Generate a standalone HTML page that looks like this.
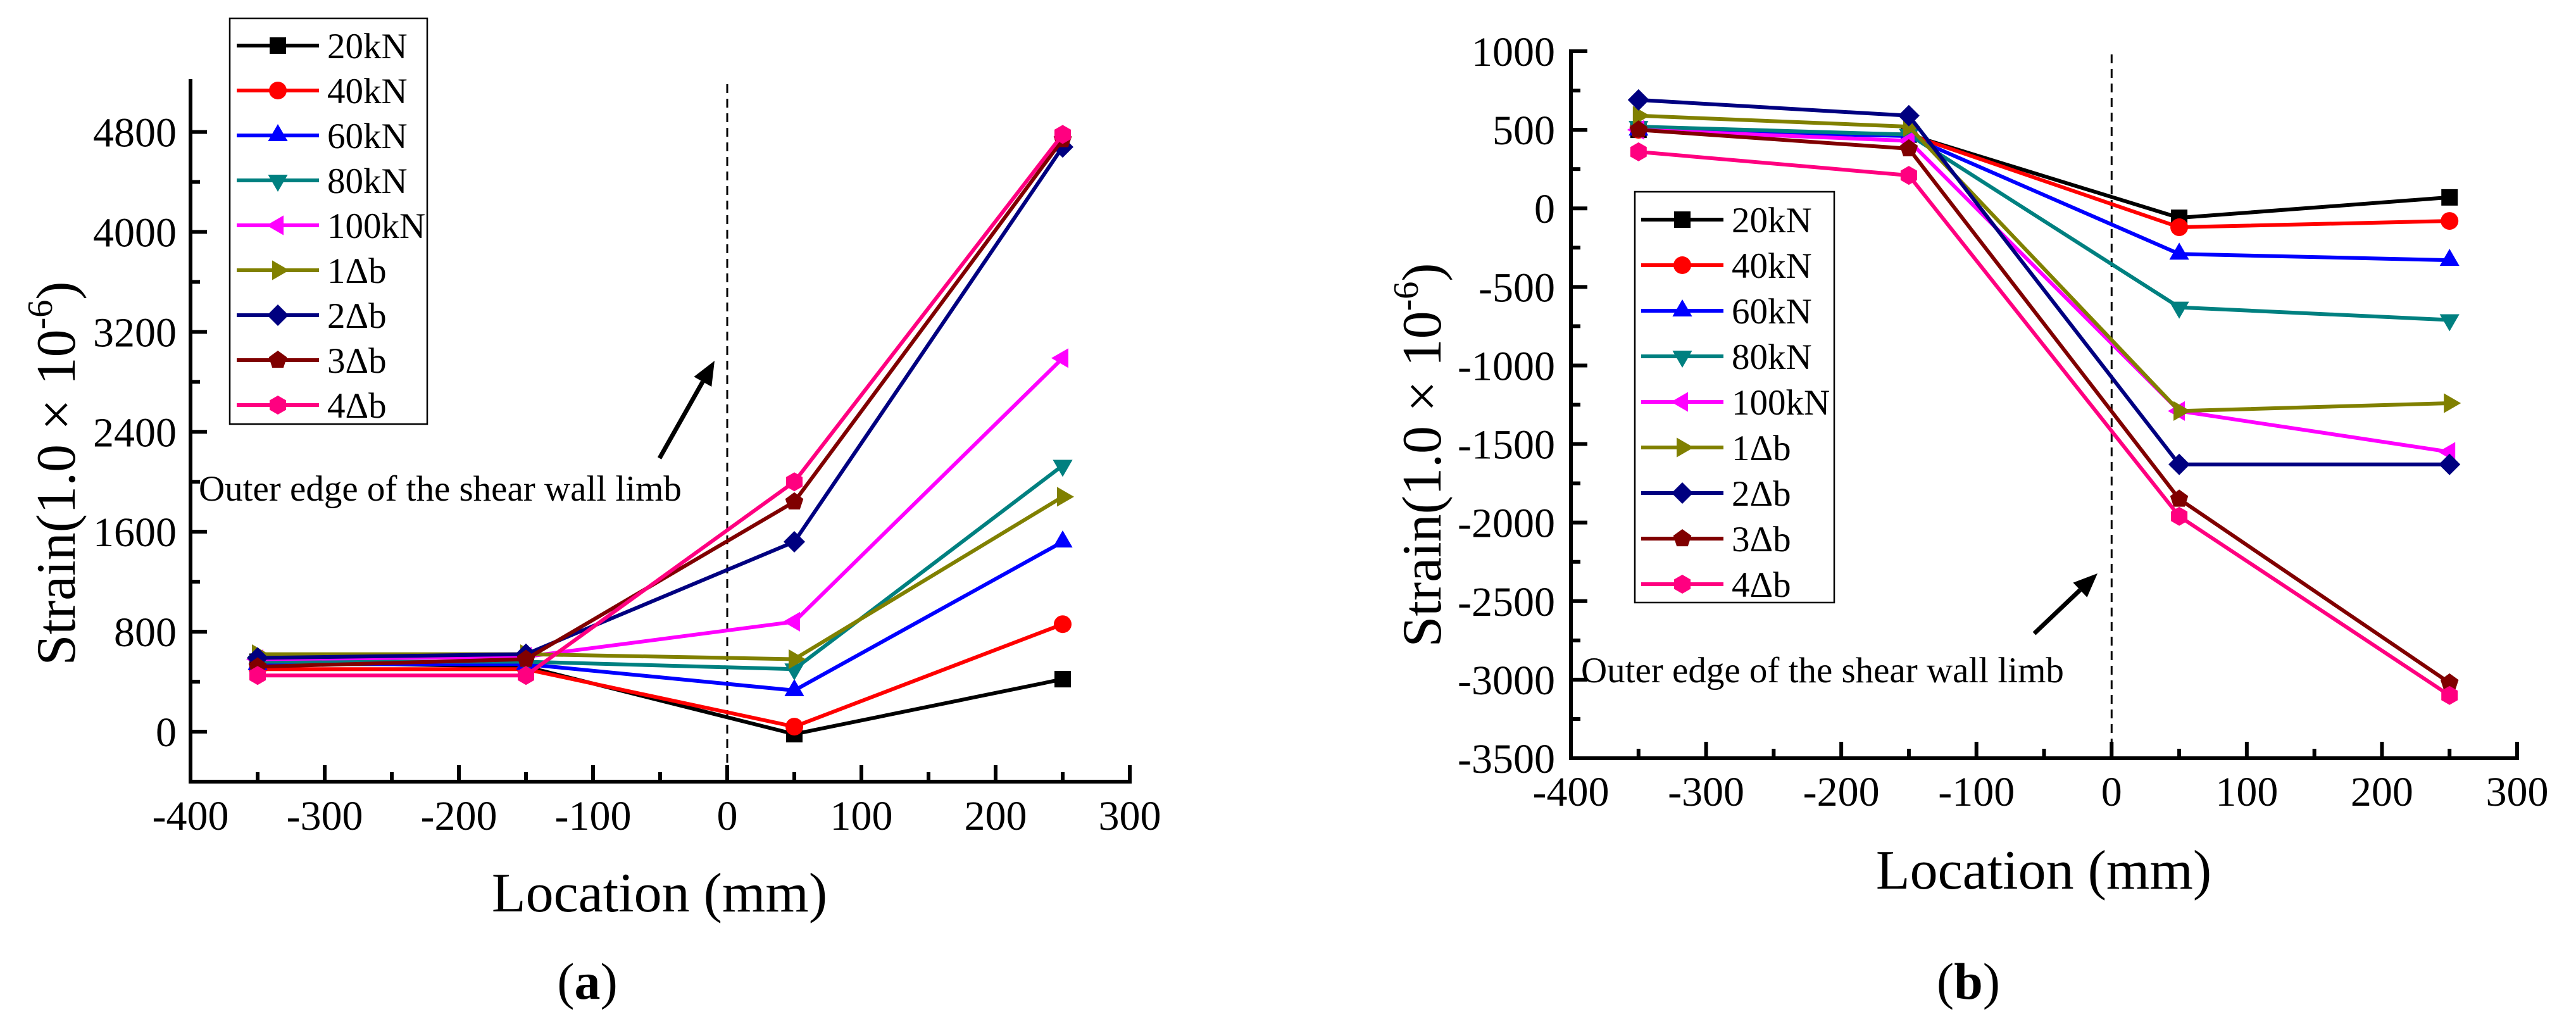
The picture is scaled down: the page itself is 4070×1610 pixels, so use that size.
<!DOCTYPE html>
<html><head><meta charset="utf-8"><style>
html,body{margin:0;padding:0;background:#fff;}
svg{display:block;font-family:"Liberation Serif",serif;}
</style></head><body>
<svg id="svg" width="4070" height="1610" viewBox="0 0 4070 1610" xmlns="http://www.w3.org/2000/svg">
<rect width="4070" height="1610" fill="#fff"/>
<g id="pa"></g>
<g id="pb"></g>
</svg>
<script>
const seriesNames = ["20kN","40kN","60kN","80kN","100kN","1\u0394b","2\u0394b","3\u0394b","4\u0394b"];
const seriesColors = ["#000000","#ff0000","#0000ff","#008080","#ff00ff","#808000","#000080","#800000","#ff0080"];
const seriesMarkers = ["square","circle","up","down","left","right","diamond","pentagon","hexagon"];
const locations = [-350,-150,50,250];
const xTicks = [-400,-300,-200,-100,0,100,200,300];
// chart (a)
const aVals20 = [560,520,-20,420];
const aVals40 = [500,500,40,860];
const aVals60 = [540,540,330,1520];
const aVals80 = [560,560,500,2130];
const aVals100 = [580,600,880,2990];
const aVals1d = [620,620,580,1880];
const aVals2d = [590,620,1520,4680];
const aVals3d = [520,580,1840,4740];
const aVals4d = [450,450,2000,4780];
const aYTicks = [0,800,1600,2400,3200,4000,4800];
// chart (b)
const bVals20 = [500,470,-60,70];
const bVals40 = [500,470,-120,-80];
const bVals60 = [500,460,-290,-330];
const bVals80 = [520,470,-630,-710];
const bVals100 = [500,430,-1290,-1550];
const bVals1d = [590,520,-1290,-1240];
const bVals2d = [690,590,-1630,-1630];
const bVals3d = [500,380,-1850,-3020];
const bVals4d = [360,210,-1960,-3100];
const bYTicks = [-3500,-3000,-2500,-2000,-1500,-1000,-500,0,500,1000];

const NS="http://www.w3.org/2000/svg";
function mk(parent,tag,attrs,text){const e=document.createElementNS(NS,tag);for(const k in attrs)e.setAttribute(k,attrs[k]);if(text!==undefined)e.textContent=text;parent.appendChild(e);return e;}

function markerPts(type,cx,cy,r){
  const pts=[];
  const poly=(n,rot)=>{for(let i=0;i<n;i++){const a=rot+i*2*Math.PI/n;pts.push((cx+r*Math.cos(a)).toFixed(1)+","+(cy+r*Math.sin(a)).toFixed(1));}};
  if(type==="up")poly(3,-Math.PI/2);
  else if(type==="down")poly(3,Math.PI/2);
  else if(type==="left")poly(3,Math.PI);
  else if(type==="right")poly(3,0);
  else if(type==="diamond")poly(4,-Math.PI/2);
  else if(type==="pentagon")poly(5,-Math.PI/2);
  else if(type==="hexagon")poly(6,-Math.PI/2);
  return pts.join(" ");
}
function drawMarker(g,type,cx,cy,color){
  let m;
  if(type==="square")m=mk(g,"rect",{x:cx-13,y:cy-13,width:26,height:26,fill:color});
  else if(type==="circle")m=mk(g,"circle",{cx:cx,cy:cy,r:14,fill:color});
  else m=mk(g,"polygon",{points:markerPts(type,cx,cy,type==="diamond"?17:(type==="pentagon"||type==="hexagon"?15:18)),fill:color});
  
  
}

function chart(g,cfg){
  const X=v=>cfg.x0+(v-(-400))/700*(cfg.x1-cfg.x0);
  const Y=v=>cfg.yb+(v-cfg.ymin)/(cfg.ymax-cfg.ymin)*(cfg.yt-cfg.yb);
  const d=mk(g,"line",{x1:X(0),x2:X(0),y1:cfg.dashTop,y2:cfg.axisY,stroke:"#000","stroke-width":3,"stroke-dasharray":"14,9"});
  
  
  cfg.vals.forEach((vals,i)=>{
    const sg=mk(g,"g",{});
    
    
    const pts=locations.map((l,j)=>X(l).toFixed(1)+","+Y(vals[j]).toFixed(1)).join(" ");
    const pl=mk(sg,"polyline",{points:pts,fill:"none",stroke:seriesColors[i],"stroke-width":6,"stroke-linejoin":"round"});
    
    
    locations.forEach((l,j)=>drawMarker(sg,seriesMarkers[i],X(l),Y(vals[j]),seriesColors[i]));
  });
  const ax=mk(g,"path",{d:`M${cfg.x0} ${cfg.axTop} V${cfg.axisY} H${cfg.x1}`,fill:"none",stroke:"#000","stroke-width":6,"stroke-linecap":"square"});
  
  
  for(let v=-400;v<=300;v+=50){
    const maj=v%100===0;
    const t=mk(g,"line",{x1:X(v),x2:X(v),y1:cfg.axisY,y2:cfg.axisY-(maj?26:15),stroke:"#000","stroke-width":6});
    
    
  }
  xTicks.forEach(v=>{
    const t=mk(g,"text",{x:X(v),y:cfg.xLabY,"font-size":66,"text-anchor":"middle"},String(v));
    
    
  });
  for(let v=cfg.ymin;v<=cfg.ymax;v+=cfg.minor){
    const maj=Math.round((v-cfg.ymin)/cfg.minor)%2===0;
    const t=mk(g,"line",{x1:cfg.x0,x2:cfg.x0+(maj?26:15),y1:Y(v),y2:Y(v),stroke:"#000","stroke-width":6});
    
    
  }
  cfg.yTicks.forEach(v=>{
    const t=mk(g,"text",{x:cfg.yLabX,y:Y(v)+23,"font-size":66,"text-anchor":"end"},String(v));
    
    
  });
  const xt=mk(g,"text",{x:cfg.xTitleX,y:cfg.xTitleY,"font-size":88,"text-anchor":"middle"},"Location (mm)");
  
  
  const yt=mk(g,"text",{x:0,y:0,"font-size":88,"text-anchor":"middle",transform:`translate(${cfg.yTitleX},${cfg.yTitleY}) rotate(-90)`});
  
  
  yt.appendChild(document.createTextNode("Strain(1.0 \u00d7 10"));
  mk(yt,"tspan",{"font-size":56,dy:-36},"-6");
  mk(yt,"tspan",{dy:36},")");
  const an=mk(g,"text",{x:cfg.annX,y:cfg.annY,"font-size":57},"Outer edge of the shear wall limb");
  
  
  const a=cfg.arrow;
  const ang=Math.atan2(a[3]-a[1],a[2]-a[0]);
  const L=38,W=16;
  const bx=a[2]-L*Math.cos(ang),by=a[3]-L*Math.sin(ang);
  const arl=mk(g,"line",{x1:a[0],y1:a[1],x2:bx,y2:by,stroke:"#000","stroke-width":7});
  
  
  const ah=mk(g,"polygon",{points:`${a[2]},${a[3]} ${bx+W*Math.sin(ang)},${by-W*Math.cos(ang)} ${bx-W*Math.sin(ang)},${by+W*Math.cos(ang)}`,fill:"#000"});
  
  
  const lg=mk(g,"g",{});
  
  
  const lb=cfg.legend;
  const box=mk(lg,"rect",{x:lb.x,y:lb.y,width:lb.w,height:lb.h,fill:"#fff",stroke:"#000","stroke-width":2.5});
  
  
  seriesNames.forEach((n,i)=>{
    const eg=mk(lg,"g",{});
    
    
    const yy=lb.first+i*lb.step;
    mk(eg,"line",{x1:lb.lx0,x2:lb.lx1,y1:yy,y2:yy,stroke:seriesColors[i],"stroke-width":6});
    drawMarker(eg,seriesMarkers[i],(lb.lx0+lb.lx1)/2,yy,seriesColors[i]);
    mk(eg,"text",{x:lb.tx,y:yy+20,"font-size":57},n);
  });
  const pl=mk(g,"text",{x:cfg.capX,y:1578,"font-size":82,"text-anchor":"middle"});
  
  
  pl.appendChild(document.createTextNode("("));
  mk(pl,"tspan",{"font-weight":"bold"},cfg.cap);
  pl.appendChild(document.createTextNode(")"));
}

chart(document.getElementById("pa"),{
  x0:301,x1:1785,ymin:0,ymax:4800,yb:1156,yt:208.5,axisY:1235,axTop:128,minor:400,
  yTicks:aYTicks,vals:[aVals20,aVals40,aVals60,aVals80,aVals100,aVals1d,aVals2d,aVals3d,aVals4d],
  dashTop:133,xLabY:1311,yLabX:279,xTitleX:1042,xTitleY:1440,yTitleX:118,yTitleY:748,
  annX:314,annY:791,arrow:[1042,724,1129,570],
  legend:{x:363,y:29,w:312,h:641,first:72,step:71,lx0:374,lx1:504,tx:517},
  capX:928,cap:"a"
});
chart(document.getElementById("pb"),{
  x0:2482,x1:3977,ymin:-3500,ymax:1000,yb:1198,yt:81,axisY:1198,axTop:81,minor:250,
  yTicks:bYTicks,vals:[bVals20,bVals40,bVals60,bVals80,bVals100,bVals1d,bVals2d,bVals3d,bVals4d],
  dashTop:86,xLabY:1273,yLabX:2457,xTitleX:3229,xTitleY:1404,yTitleX:2276,yTitleY:719,
  annX:2498,annY:1078,arrow:[3214,1001,3314,906],
  legend:{x:2583,y:303,w:315,h:649,first:347,step:72,lx0:2593,lx1:2723,tx:2736},
  capX:3110,cap:"b"
});
</script>
</body></html>
